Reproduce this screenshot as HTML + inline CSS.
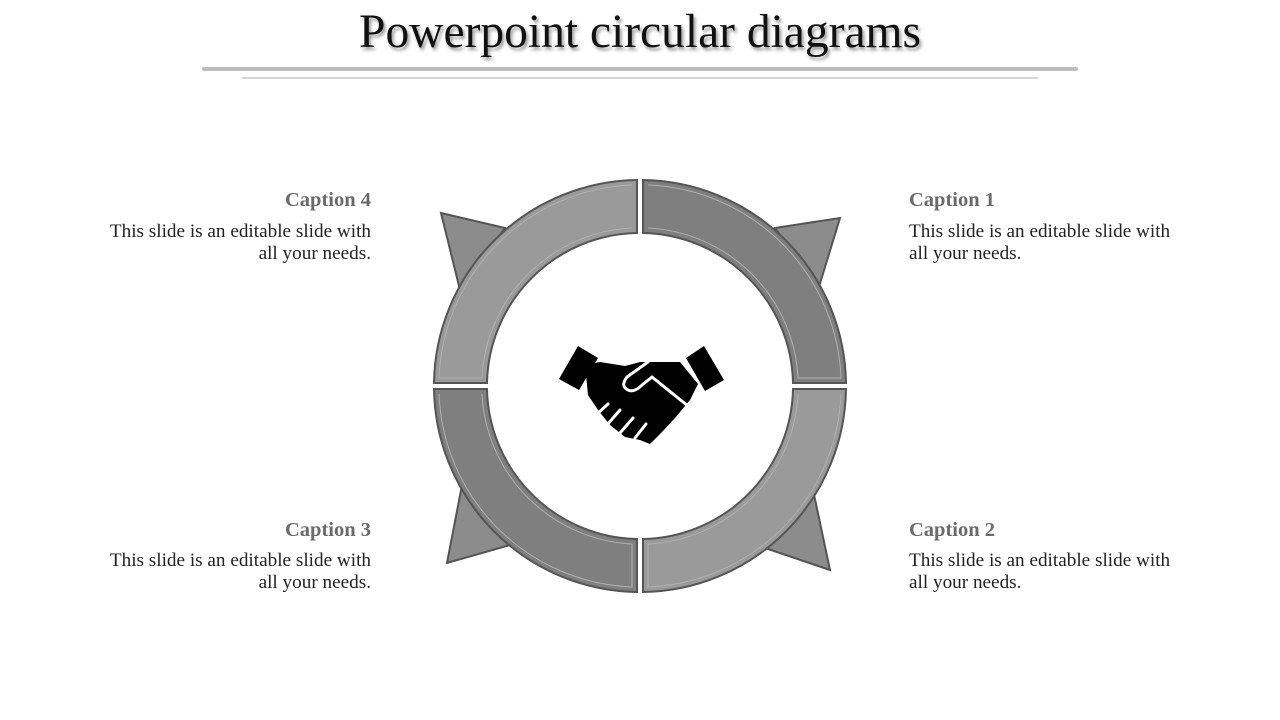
<!DOCTYPE html>
<html><head><style>
body{margin:0;width:1280px;height:720px;background:#fff;position:relative;overflow:hidden;font-family:"Liberation Serif",serif}
.t{position:absolute;left:0;width:1280px;top:5px;text-align:center;font-size:47.5px;color:#111;text-shadow:2px 3px 3px #999}
.c{position:absolute;font-size:20.5px;font-weight:bold;color:#6a6a6a}
.d{position:absolute;font-size:19.2px;color:#222;line-height:22px;width:270px}
.r{text-align:right}
</style></head><body>
<div class="t">Powerpoint circular diagrams</div>
<div style="position:absolute;left:202px;top:67px;width:876px;height:4px;background:#bdbdbd;border-radius:2px"></div>
<div style="position:absolute;left:242px;top:77px;width:796px;height:2px;background:#d5d5d5"></div>

<div class="c" style="left:251px;top:189px;width:120px;text-align:right">Caption 4</div>
<div class="d r" style="left:101px;top:221px">This slide is an editable slide with all your needs.</div>
<div class="c" style="left:909px;top:189px">Caption 1</div>
<div class="d" style="left:909px;top:221px">This slide is an editable slide with all your needs.</div>
<div class="c" style="left:251px;top:519px;width:120px;text-align:right">Caption 3</div>
<div class="d r" style="left:101px;top:550px">This slide is an editable slide with all your needs.</div>
<div class="c" style="left:909px;top:519px">Caption 2</div>
<div class="d" style="left:909px;top:550px">This slide is an editable slide with all your needs.</div>

<svg width="1280" height="720" style="position:absolute;left:0;top:0">
<g fill="#8c8c8c" stroke="#555" stroke-width="2">
<polygon points="441,213 505,228 460,290"/>
<polygon points="840,218 775,228 818,290"/>
<polygon points="447,563 462,485 510,545"/>
<polygon points="830,570 765,548 812,485"/>
</g>
<g stroke="#555" stroke-width="2">
<path d="M637,180 A206,206 0 0 0 434,383 L487,383 A153,153 0 0 1 637,233 Z" fill="#9a9a9a"/>
<path d="M643,180 A206,206 0 0 1 846,383 L793,383 A153,153 0 0 0 643,233 Z" fill="#7f7f7f"/>
<path d="M434,389 A206,206 0 0 0 637,592 L637,539 A153,153 0 0 1 487,389 Z" fill="#7f7f7f"/>
<path d="M846,389 A206,206 0 0 1 643,592 L643,539 A153,153 0 0 0 793,389 Z" fill="#9a9a9a"/>
</g>
<g fill="none" stroke="#b0b0b0" stroke-width="1">
<path d="M632,185 A201,201 0 0 0 439,378 L482,378 A158,158 0 0 1 632,228"/>
<path d="M648,185 A201,201 0 0 1 841,378 L798,378 A158,158 0 0 0 648,228"/>
<path d="M439,394 A201,201 0 0 0 632,587 L632,544 A158,158 0 0 1 482,394"/>
<path d="M841,394 A201,201 0 0 1 648,587 L648,544 A158,158 0 0 0 798,394"/>
</g>
<g fill="#000">
<polygon points="559,379 578,346 598,358 579,390"/>
<polygon points="704,346 724,380 705,391 686,358"/>
<path d="M585,365 L600,362 L625,366 L640,362 L680,362 L698,384 L690,400 L675,418 L662,432 L650,444 L640,440 L625,437 L610,425 L598,410 L588,395 Z"/>
</g>
<g fill="none" stroke="#fff" stroke-width="3" stroke-linecap="round">
<path d="M648,362 L627,377 Q620,386 628,390 Q634,393 642,385 L652,377 L688,406"/>
<path d="M608,404 L596,415 M620,410 L607,425 M633,418 L620,433 M646,424 L635,438"/>
</g>
</svg>
</body></html>
